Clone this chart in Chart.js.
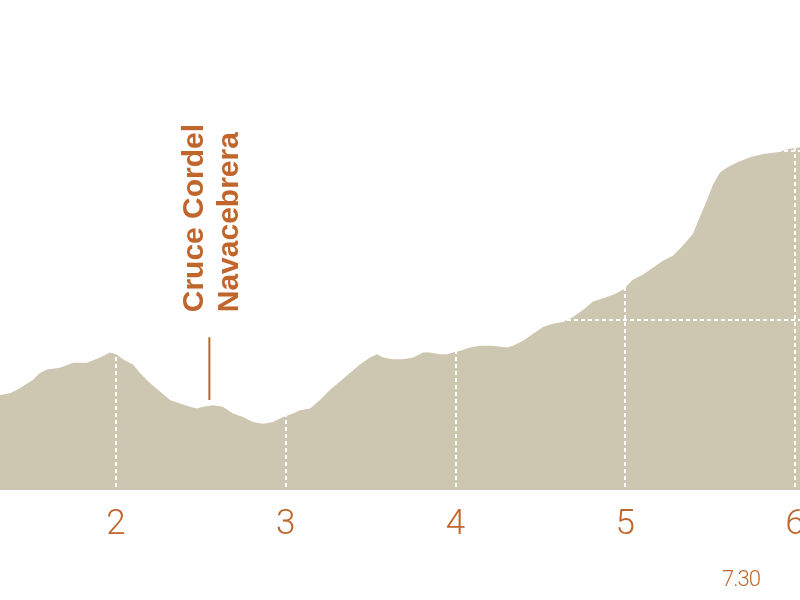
<!DOCTYPE html>
<html>
<head>
<meta charset="utf-8">
<script src="https://cdn.jsdelivr.net/npm/chart.js@4/dist/chart.umd.min.js"></script>
<style>
  html, body { margin: 0; padding: 0; background: #fff; overflow: hidden; }
  #wrap { width: 840px; height: 600px; }
</style>
</head>
<body>
<div id="wrap"><canvas id="profile" width="840" height="600"></canvas></div>
<script>
// distance (km) and elevation (m)
const km = [1.30, 1.317, 1.376, 1.434, 1.511, 1.552, 1.594, 1.670, 1.747, 1.829, 1.906, 1.965, 2.000,
  2.041, 2.100, 2.141, 2.200, 2.259, 2.318, 2.377, 2.436, 2.477, 2.513, 2.571, 2.630, 2.689,
  2.748, 2.807, 2.866, 2.925, 2.984, 3.043, 3.084, 3.143, 3.202, 3.261, 3.320, 3.378, 3.437,
  3.496, 3.538, 3.573, 3.632, 3.691, 3.750, 3.809, 3.850, 3.909, 3.950, 3.985, 4.027, 4.085,
  4.144, 4.221, 4.303, 4.339, 4.398, 4.457, 4.515, 4.574, 4.633, 4.692, 4.751, 4.810, 4.869,
  4.928, 4.987, 5.046, 5.105, 5.163, 5.222, 5.281, 5.340, 5.399, 5.440, 5.482, 5.517, 5.558,
  5.600, 5.658, 5.735, 5.812, 5.894, 5.970, 6.029, 6.150, 6.280];
const elevation = [1255, 1256, 1257, 1260, 1265, 1269, 1271, 1272, 1275, 1275, 1278, 1281, 1280,
  1277, 1274, 1269, 1263, 1258, 1253, 1251, 1249, 1248, 1249, 1250, 1249, 1245,
  1243, 1240, 1239, 1240, 1243, 1245, 1247, 1248, 1253, 1259, 1264, 1269, 1274,
  1278, 1280, 1278, 1277, 1277, 1278, 1281, 1281, 1280, 1280, 1281, 1282, 1284,
  1285, 1285, 1284, 1285, 1288, 1292, 1296, 1298, 1299, 1302, 1306, 1311, 1313,
  1315, 1318, 1324, 1327, 1331, 1335, 1338, 1344, 1351, 1361, 1371, 1380, 1387,
  1390, 1393, 1396, 1398, 1399, 1401, 1402, 1403, 1403];

const xTicks = [2, 3, 4, 5, 6];
const yGrid = [1200, 1300, 1400];
const xMin = 1.3166, xMax = 6.265;
const yMin = 1200, yMax = 1488.7;

const waypointKm = 2.55;
const waypointFrom = 1253, waypointTo = 1290;
const waypointLabel = ['Cruce Cordel', 'Navacebrera'];
const totalLabel = '7.30';

const brown = '#c0652b';
const sand = '#cdc6b0';
const thin = 'Roboto, "DejaVu Sans", sans-serif';

const waypoint = {
  id: 'waypoint',
  afterDraw(chart) {
    const c = chart.ctx;
    const x = chart.scales.x.getPixelForValue(waypointKm);
    const y1 = chart.scales.y.getPixelForValue(waypointFrom);
    const y2 = chart.scales.y.getPixelForValue(waypointTo);
    c.save();
    c.strokeStyle = brown;
    c.lineWidth = 2;
    c.beginPath();
    c.moveTo(x, y1);
    c.lineTo(x, y2);
    c.stroke();

    c.translate(x, y2 - 25);
    c.rotate(-Math.PI / 2);
    c.fillStyle = brown;
    c.font = 'bold 30px "Liberation Sans", Arial, sans-serif';
    c.textAlign = 'left';
    c.textBaseline = 'alphabetic';
    c.fillText(waypointLabel[0], 0, -6);
    c.fillText(waypointLabel[1], 0, 29);
    c.restore();

    // total distance note under the axis
    c.save();
    c.fillStyle = brown;
    c.font = '300 22px ' + thin;
    c.letterSpacing = '-1px';
    c.textAlign = 'left';
    c.textBaseline = 'alphabetic';
    c.fillText(totalLabel, 722, 586);
    c.restore();
  }
};

new Chart(document.getElementById('profile'), {
  type: 'line',
  data: {
    datasets: [{
      data: km.map((k, i) => ({ x: k, y: elevation[i] })),
      fill: 'start',
      backgroundColor: sand,
      borderWidth: 0,
      pointRadius: 0,
      tension: 0
    }]
  },
  options: {
    responsive: false,
    animation: false,
    layout: { padding: { left: 0, right: 0, top: 0, bottom: 40 } },
    plugins: { legend: { display: false }, tooltip: { enabled: false } },
    scales: {
      x: {
        type: 'linear',
        min: xMin,
        max: xMax,
        afterBuildTicks: s => { s.ticks = xTicks.map(v => ({ value: v })); },
        ticks: {
          color: brown,
          padding: 14,
          font: { family: thin, size: 35, weight: 300 }
        },
        grid: { color: '#ffffff', lineWidth: 2, drawTicks: false, z: 1 },
        border: { display: false, dash: [4, 3] }
      },
      y: {
        min: yMin,
        max: yMax,
        afterBuildTicks: s => { s.ticks = yGrid.map(v => ({ value: v })); },
        ticks: { display: false },
        grid: {
          color: ctx => (ctx.tick && ctx.tick.value === yMin) ? 'rgba(0,0,0,0)' : '#ffffff',
          lineWidth: 2,
          drawTicks: false,
          z: 1
        },
        border: { display: false, dash: [4, 3] }
      }
    }
  },
  plugins: [waypoint]
});
</script>
</body>
</html>
